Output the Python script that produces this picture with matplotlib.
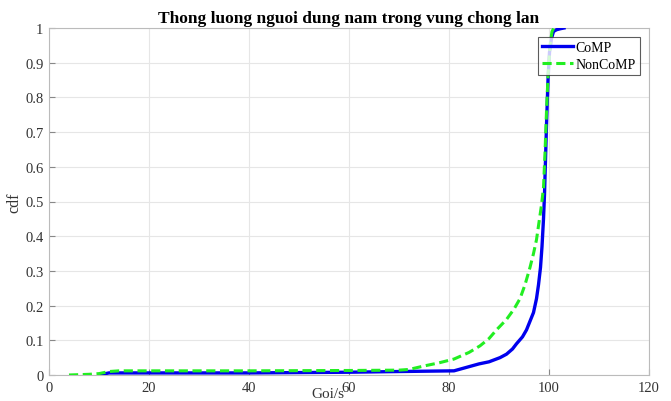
import matplotlib
matplotlib.use("Agg")
import matplotlib.pyplot as plt

# CoMP series (x: Goi/s, y: cdf)
comp_x = [10, 11, 12, 20, 40, 60, 70, 81, 83, 86, 88, 90.2, 91.5, 92.7, 93.5, 94.7,
          95.5, 96.2, 96.9, 97.5, 97.9, 98.3, 98.6, 98.9, 99.1, 99.5, 99.8, 100.1, 100.5,
          100.9, 101.5, 102.3, 103]
comp_y = [0.0, 0.003, 0.006, 0.006, 0.006, 0.008, 0.01, 0.012, 0.02, 0.032, 0.038, 0.05,
          0.06, 0.075, 0.09, 0.11, 0.13, 0.155, 0.18, 0.22, 0.26, 0.31, 0.37, 0.45, 0.52,
          0.72, 0.85, 0.93, 0.97, 0.99, 0.995, 0.998, 1.0]

# NonCoMP series
noncomp_x = [4, 8, 10, 12, 14, 20, 40, 60, 70, 72, 75, 78, 81, 84, 86.2, 88, 89.5, 91.5,
             93, 94.2, 95.2, 96.2, 96.9, 97.5, 98.0, 98.5, 98.9, 99.2, 99.5, 99.8, 100.2,
             100.6, 101]
noncomp_y = [0.0, 0.002, 0.004, 0.01, 0.012, 0.012, 0.012, 0.013, 0.014, 0.016, 0.026,
             0.035, 0.046, 0.065, 0.084, 0.105, 0.13, 0.16, 0.19, 0.22, 0.26, 0.31, 0.35,
             0.39, 0.44, 0.49, 0.54, 0.64, 0.76, 0.86, 0.95, 0.99, 1.0]

x_ticks = [0, 20, 40, 60, 80, 100, 120]
y_ticks = [0, 0.1, 0.2, 0.3, 0.4, 0.5, 0.6, 0.7, 0.8, 0.9, 1]
y_ticklabels = ["0", "0.1", "0.2", "0.3", "0.4", "0.5", "0.6", "0.7", "0.8", "0.9", "1"]

plt.rcParams['font.family'] = ['Liberation Serif', 'DejaVu Serif']

fig = plt.figure(figsize=(6.71, 4.02), dpi=100)
ax = fig.add_axes([49/671, 1 - 376/402, 600/671, 347/402])

ax.plot(comp_x, comp_y, color='#0000ee', lw=2.4, label='CoMP', zorder=3)
ax.plot(noncomp_x, noncomp_y, color='#22ee22', lw=2.2, ls=(0, (3, 1.5)), label='NonCoMP', zorder=4)

ax.set_xlim(0, 120)
ax.set_ylim(0, 1)
ax.set_xticks(x_ticks)
ax.set_yticks(y_ticks)
ax.set_yticklabels(y_ticklabels)
ax.grid(True, color='#e6e6e6', lw=0.8)
ax.set_axisbelow(True)
for s in ax.spines.values():
    s.set_color('#bbbbbb')
    s.set_linewidth(0.8)
ax.tick_params(direction='in', length=4, color='#888888', labelsize=10.5, labelcolor='#333333', pad=4)

ax.set_title('Thong luong nguoi dung nam trong vung chong lan', fontsize=12.5,
             fontweight='bold', pad=4)
ax.set_xlabel('Goi/s', fontsize=11, color='#333333')
ax.xaxis.set_label_coords(0.465, -0.036)
ax.set_ylabel('cdf', fontsize=11.5, color='#333333', labelpad=2)

leg = ax.legend(loc='upper right', bbox_to_anchor=(0.985, 0.975), fontsize=10,
                frameon=True, fancybox=False, edgecolor='#333333', handlelength=2.2,
                handletextpad=0.2, borderpad=0.3, labelspacing=0.3, borderaxespad=0)
leg.get_frame().set_linewidth(0.8)

fig.savefig('out.png', dpi=100)
